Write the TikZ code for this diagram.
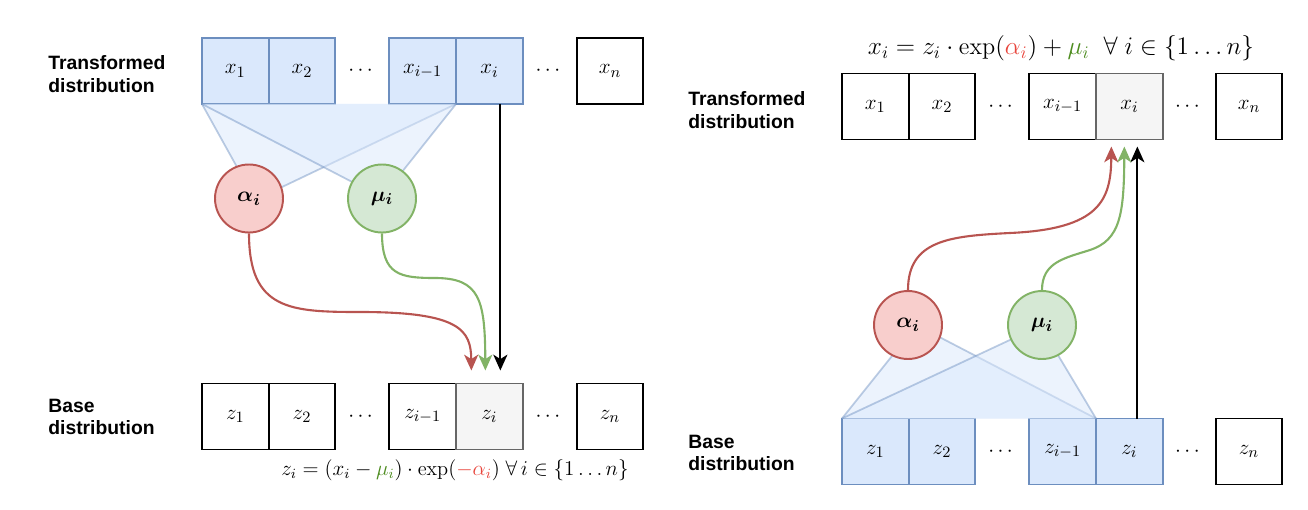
\documentclass[tikz,border=0pt]{standalone}
\usepackage{amsmath,bm}
\usepackage{fontspec}
\setsansfont{Liberation Sans}
\usetikzlibrary{positioning,calc,arrows.meta}
\definecolor{blufill}{HTML}{DAE8FC}
\definecolor{bluline}{HTML}{6C8EBF}
\definecolor{redfill}{HTML}{F8CECC}
\definecolor{redline}{HTML}{B85450}
\definecolor{grnfill}{HTML}{D5E8D4}
\definecolor{grnline}{HTML}{82B366}
\definecolor{gryfill}{HTML}{F5F5F5}
\definecolor{gryline}{HTML}{666666}
\definecolor{eqred}{HTML}{E8453C}
\definecolor{eqgrn}{HTML}{4D8C1F}
\tikzset{
 cell/.style={draw=black,line width=1.1pt,minimum width=1.334cm,minimum height=1.32cm,inner sep=0pt,outer sep=0pt,font=\fontsize{12.5}{14}\selectfont},
 blucell/.style={cell,draw=bluline,fill=blufill},
 grycell/.style={cell,draw=gryline,fill=gryfill},
 param/.style={circle,line width=1.1pt,minimum size=1.36cm,inner sep=0pt,font=\fontsize{12.5}{14}\selectfont},
 alpha/.style={param,draw=redline,fill=redfill},
 mu/.style={param,draw=grnline,fill=grnfill},
 fan/.style={fill=blufill,fill opacity=0.5,draw=bluline,draw opacity=0.45,line width=1pt},
 arr/.style={line width=1.2pt,-{Stealth[length=9pt,width=8pt,inset=2.5pt]}},
 lbl/.style={align=left,inner sep=0pt,font=\fontsize{11}{13}\selectfont\sffamily\bfseries},
 eq/.style={inner sep=0pt,font=\fontsize{12.5}{14}\selectfont}
}
\begin{document}
\begin{tikzpicture}[x=0.02cm,y=-0.02cm]
\useasboundingbox (0,0) rectangle (1308,510);

\node[lbl,anchor=west] (lt) at (48,74) {Transformed\\distribution};
\node[lbl,anchor=west] (lb) at (48,417) {Base\\distribution};

\node[blucell] (x1) at (235.3,71) {$x_1$};
\node[blucell,right=0pt of x1] (x2) {$x_2$};
\node[blucell,right=1.08cm of x2] (xim1) {$x_{i-1}$};
\node[blucell,right=0pt of xim1] (xi) {$x_i$};
\node[cell,right=1.08cm of xi] (xn) {$x_n$};
\node[cell] (z1) at (235.3,416.5) {$z_1$};
\node[cell,right=0pt of z1] (z2) {$z_2$};
\node[cell,right=1.08cm of z2] (zim1) {$z_{i-1}$};
\node[grycell,right=0pt of zim1] (zi) {$z_i$};
\node[cell,right=1.08cm of zi] (zn) {$z_n$};
\node[eq] at ($(x2)!0.5!(xim1)$) {$\cdots$};
\node[eq] at ($(xi)!0.5!(xn)$) {$\cdots$};
\node[eq] at ($(z2)!0.5!(zim1)$) {$\cdots$};
\node[eq] at ($(zi)!0.5!(zn)$) {$\cdots$};

\coordinate (al) at (249,198.5);
\coordinate (mu) at (382,198.5);
\path[fan] (x1.south west) -- ($(al)+(111:0.68cm)$) -- ($(al)+(19:0.68cm)$) -- (xim1.south east);
\path[fan] (x1.south west) -- ($(mu)+(151:0.68cm)$) -- ($(mu)+(53:0.68cm)$) -- (xim1.south east);
\node[alpha] (al) at (al) {$\bm{\alpha_i}$};
\node[mu] (mu) at (mu) {$\bm{\mu_i}$};

\draw[arr] ([xshift=0.22cm]xi.south) -- ([xshift=0.22cm,yshift=0.26cm]zi.north);
\draw[arr,redline] (al.south) .. controls (249,310) and (290,312) .. (360,312) .. controls (460,312) and (471,330) .. ([xshift=-0.36cm,yshift=0.26cm]zi.north);
\draw[arr,grnline] (mu.south) .. controls (382,275) and (400,278) .. (435,278) .. controls (480,278) and (485,300) .. ([xshift=-0.08cm,yshift=0.26cm]zi.north);

\node[eq,font=\fontsize{11.6}{14}\selectfont] (eqz) at (455,470) {$z_i = (x_i - \textcolor{eqgrn}{\mu_i}) \cdot \exp(\textcolor{eqred}{-\alpha_i})\;\forall\, i \in \{1 \dots n\}$};

\node[lbl,anchor=west] (rt) at (688,110) {Transformed\\distribution};
\node[lbl,anchor=west] (rb) at (688,453) {Base\\distribution};

\node[cell] (rx1) at (875.3,106.5) {$x_1$};
\node[cell,right=0pt of rx1] (rx2) {$x_2$};
\node[cell,right=1.08cm of rx2] (rxim1) {$x_{i-1}$};
\node[grycell,right=0pt of rxim1] (rxi) {$x_i$};
\node[cell,right=1.06cm of rxi] (rxn) {$x_n$};
\node[blucell] (rz1) at (875.3,451.5) {$z_1$};
\node[blucell,right=0pt of rz1] (rz2) {$z_2$};
\node[blucell,right=1.08cm of rz2] (rzim1) {$z_{i-1}$};
\node[blucell,right=0pt of rzim1] (rzi) {$z_i$};
\node[cell,right=1.06cm of rzi] (rzn) {$z_n$};
\node[eq] at ($(rx2)!0.5!(rxim1)$) {$\cdots$};
\node[eq] at ($(rxi)!0.5!(rxn)$) {$\cdots$};
\node[eq] at ($(rz2)!0.5!(rzim1)$) {$\cdots$};
\node[eq] at ($(rzi)!0.5!(rzn)$) {$\cdots$};

\coordinate (ral) at (908,325);
\coordinate (rmu) at (1042,325);
\path[fan] (rz1.north west) -- ($(ral)+(243:0.68cm)$) -- ($(ral)+(339:0.68cm)$) -- (rzim1.north east);
\path[fan] (rz1.north west) -- ($(rmu)+(205:0.68cm)$) -- ($(rmu)+(298:0.68cm)$) -- (rzim1.north east);
\node[alpha] (ral) at (ral) {$\bm{\alpha_i}$};
\node[mu] (rmu) at (rmu) {$\bm{\mu_i}$};

\draw[arr] ([xshift=0.16cm]rzi.north) -- ([xshift=0.16cm,yshift=-0.14cm]rxi.south);
\draw[arr,redline] (ral.north) .. controls (908,240) and (950,236) .. (1010,233) .. controls (1100,229) and (1111,200) .. ([xshift=-0.36cm,yshift=-0.14cm]rxi.south);
\draw[arr,grnline] (rmu.north) .. controls (1042,262) and (1065,258) .. (1090,250) .. controls (1120,240) and (1124,215) .. ([xshift=-0.1cm,yshift=-0.14cm]rxi.south);

\node[eq,font=\fontsize{13.8}{16}\selectfont] (eqx) at (1061,48) {$x_i = z_i \cdot \exp(\textcolor{eqred}{\alpha_i}) + \textcolor{eqgrn}{\mu_i}\;\;\forall\; i \in \{1 \dots n\}$};
\end{tikzpicture}
\end{document}
